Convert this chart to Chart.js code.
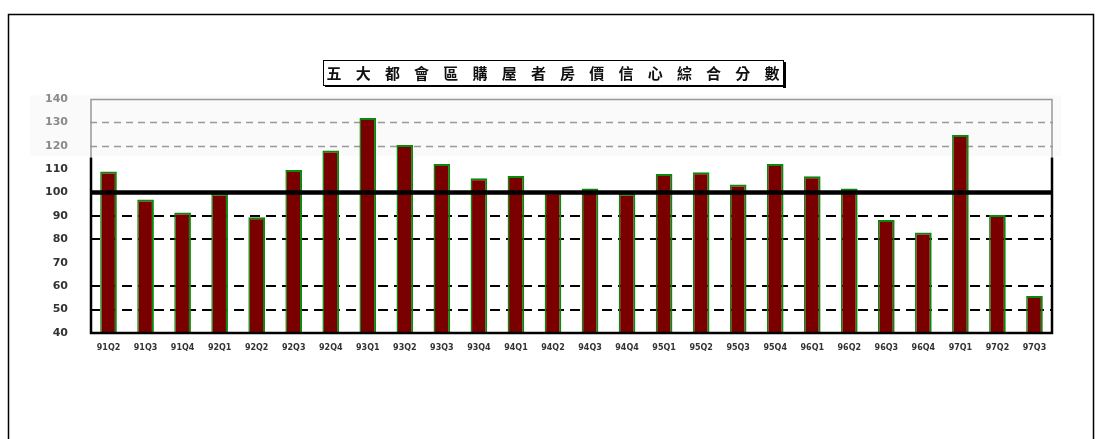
<!DOCTYPE html>
<html><head><meta charset="utf-8">
<script src="https://cdn.jsdelivr.net/npm/chart.js@4"></script>
<style>html,body{margin:0;padding:0;background:#fff}#wrap{width:1102px;height:439px;position:relative}</style>
</head><body><div id="wrap"><canvas id="c" width="1102" height="439"></canvas></div>
<script>
const chartTitle = "五大都會區購屋者房價信心綜合分數";
const categories = ["91Q2","91Q3","91Q4","92Q1","92Q2","92Q3","92Q4","93Q1","93Q2","93Q3","93Q4","94Q1","94Q2","94Q3","94Q4","95Q1","95Q2","95Q3","95Q4","96Q1","96Q2","96Q3","96Q4","97Q1","97Q2","97Q3"];
const scores = [109,97,91.5,99.5,89.5,109.7,118,131.9,120.3,112.2,106.1,107.1,100,101.8,99.5,108,108.7,103.5,112.2,107,101.8,88.3,82.9,124.6,90.4,55.8];
const yTicks = [40,50,60,70,80,90,100,110,120,130,140];
const grayDashedLines = [130,120];
const blackDashedLines = [90,80,60,50];
const baselineValue = 100;

const decor = {
  id: 'decor',
  beforeDraw(chart) {
    const ctx = chart.ctx;
    ctx.save();
    ctx.fillStyle = '#fff';
    ctx.fillRect(0, 0, chart.width, chart.height);
    const y = chart.scales.y;
    ctx.fillStyle = '#fafafa';
    ctx.fillRect(30, y.getPixelForValue(141.5), chart.chartArea.right + 8 - 30, y.getPixelForValue(115.5) - y.getPixelForValue(141.5));
    ctx.strokeStyle = '#000';
    ctx.lineWidth = 1.5;
    ctx.beginPath();
    ctx.moveTo(8.5, 445); ctx.lineTo(8.5, 14.5); ctx.lineTo(1093.5, 14.5); ctx.lineTo(1093.5, 445);
    ctx.stroke();
    ctx.restore();
  },
  beforeDatasetsDraw(chart) {
    const ctx = chart.ctx, a = chart.chartArea, y = chart.scales.y;
    ctx.save();
    ctx.strokeStyle = '#999'; ctx.lineWidth = 1.5; ctx.setLineDash([7, 5]);
    grayDashedLines.forEach(v => { const p = Math.round(y.getPixelForValue(v)) + 0.5; ctx.beginPath(); ctx.moveTo(a.left, p); ctx.lineTo(a.right, p); ctx.stroke(); });
    ctx.strokeStyle = '#000'; ctx.lineWidth = 2; ctx.setLineDash([10, 6]);
    blackDashedLines.forEach(v => { const p = Math.round(y.getPixelForValue(v)); ctx.beginPath(); ctx.moveTo(a.left, p); ctx.lineTo(a.right, p); ctx.stroke(); });
    ctx.restore();
  },
  afterDatasetsDraw(chart) {
    const ctx = chart.ctx, a = chart.chartArea, y = chart.scales.y;
    ctx.save();
    ctx.strokeStyle = '#000'; ctx.lineWidth = 4.5;
    let p = y.getPixelForValue(baselineValue);
    ctx.beginPath(); ctx.moveTo(a.left, p); ctx.lineTo(a.right, p); ctx.stroke();
    const split = y.getPixelForValue(115);
    ctx.strokeStyle = '#999'; ctx.lineWidth = 1.5;
    ctx.beginPath();
    ctx.moveTo(a.left + 1, split); ctx.lineTo(a.left + 1, a.top + 0.5); ctx.lineTo(a.right - 1, a.top + 0.5); ctx.lineTo(a.right - 1, split);
    ctx.stroke();
    ctx.strokeStyle = '#000'; ctx.lineWidth = 2.5;
    ctx.beginPath();
    ctx.moveTo(a.left + 1, split); ctx.lineTo(a.left + 1, a.bottom); ctx.lineTo(a.right - 1, a.bottom); ctx.lineTo(a.right - 1, split);
    ctx.stroke();
    const bx = 323, by = 60, bw = 460, bh = 25;
    ctx.fillStyle = '#fff'; ctx.fillRect(bx, by, bw, bh);
    ctx.fillStyle = '#000';
    ctx.fillRect(bx + bw, by + 2, 3, bh + 1);
    ctx.fillRect(bx + 2, by + bh, bw, 2);
    ctx.strokeStyle = '#000'; ctx.lineWidth = 1;
    ctx.strokeRect(bx + 0.5, by + 0.5, bw, bh);
    ctx.font = 'bold 15px "Noto Sans CJK TC"';
    ctx.textAlign = 'center'; ctx.textBaseline = 'middle';
    ctx.fillStyle = '#111';
    const chars = Array.from(chartTitle);
    const x0 = 334, step = 29.2;
    chars.forEach((c, i) => ctx.fillText(c, x0 + i * step, by + bh / 2 + 1));
    ctx.restore();
  }
};

new Chart(document.getElementById('c'), {
  type: 'bar',
  data: {
    labels: categories,
    datasets: [{
      data: scores,
      backgroundColor: '#7a0000',
      borderColor: '#0a8a0a',
      borderWidth: {top: 2, left: 1.5, right: 2, bottom: 0},
      borderSkipped: 'bottom',
      barPercentage: 0.9,
      categoryPercentage: 0.5
    }]
  },
  options: {
    responsive: false,
    devicePixelRatio: 1,
    animation: false,
    layout: {padding: {left: 40, right: 49, top: 99, bottom: 86}},
    plugins: {legend: {display: false}, title: {display: false}, tooltip: {enabled: false}},
    scales: {
      x: {
        grid: {display: false, drawTicks: false},
        border: {display: false},
        ticks: {font: {size: 8, family: 'DejaVu Sans', weight: 'bold'}, color: '#333', maxRotation: 0, autoSkip: false, padding: 10},
        afterFit(s) { s.height = 20; }
      },
      y: {
        min: 40, max: 140,
        afterBuildTicks(s) { s.ticks = yTicks.map(v => ({value: v})); },
        grid: {display: false, drawTicks: false},
        border: {display: false},
        ticks: {
          font: {size: 11, family: 'DejaVu Sans', weight: 'bold'},
          color: ctx => (ctx.tick && ctx.tick.value >= 120) ? '#8a8a8a' : '#333',
          padding: 22
        },
        afterFit(s) { s.width = 50; }
      }
    }
  },
  plugins: [decor]
});
</script>
</body></html>
